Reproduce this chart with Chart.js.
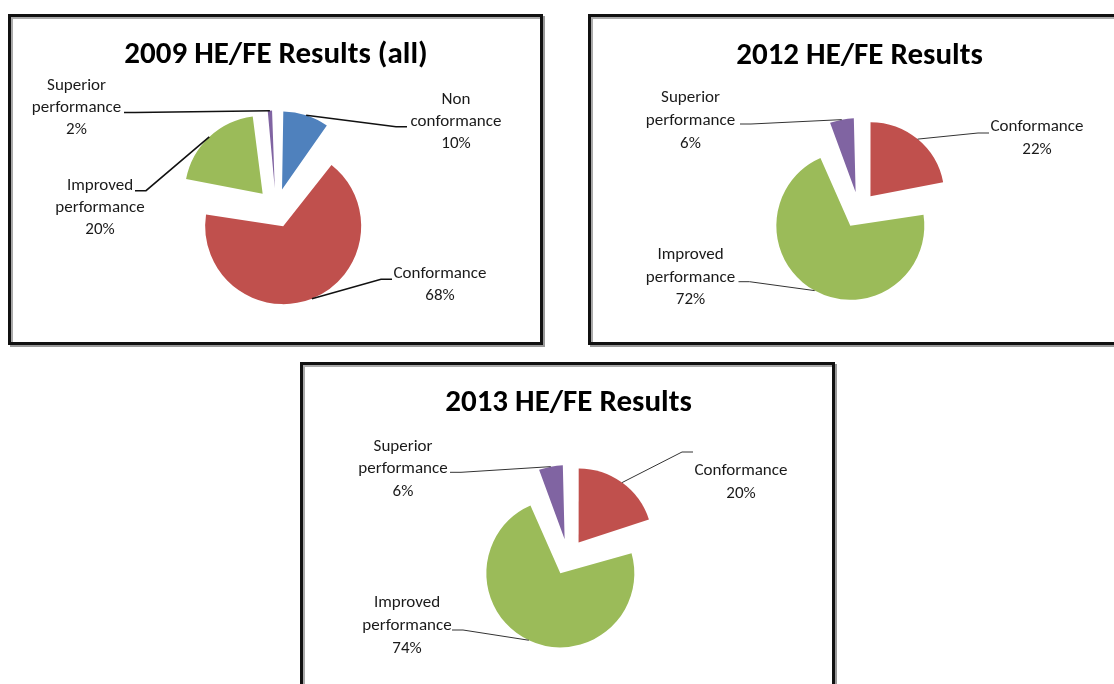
<!DOCTYPE html>
<html>
<head>
<script src="https://cdn.jsdelivr.net/npm/chart.js@4.4.1/dist/chart.umd.min.js"></script>
<style>
  html, body { margin: 0; padding: 0; background: #fff; overflow: hidden; width: 1114px; height: 684px; }
  .box { position: absolute; width: 535px; height: 331px; box-sizing: border-box;
         border: 3px solid #111; box-shadow: 2px 2px 0 #999, inset 2px 2px 0 #aaa; }
  canvas { position: absolute; }
</style>
</head>
<body>
  <div class="box" style="left:8px;top:14px"></div>
  <div class="box" style="left:588px;top:14px"></div>
  <div class="box" style="left:300px;top:362px"></div>
  <canvas id="c2009" width="535" height="331" style="left:8px;top:14px"></canvas>
  <canvas id="c2012" width="535" height="331" style="left:588px;top:14px"></canvas>
  <canvas id="c2013" width="535" height="331" style="left:300px;top:362px"></canvas>
<script>
// data
const titles = ['2009 HE/FE Results (all)', '2012 HE/FE Results', '2013 HE/FE Results']
const categories2009 = ['Non conformance', 'Conformance', 'Improved performance', 'Superior performance']
const values2009 = [10, 68, 20, 2]
const categories2012 = ['Conformance', 'Improved performance', 'Superior performance']
const values2012 = [22, 72, 6]
const categories2013 = ['Conformance', 'Improved performance', 'Superior performance']
const values2013 = [20, 74, 6]

const colorOf = {
  'Non conformance': '#4F81BD',
  'Conformance': '#C0504D',
  'Improved performance': '#9BBB59',
  'Superior performance': '#8064A2'
}

// layout: pie centre in canvas, radius, explode distance, title position,
// label placement [dx, dy from pie centre, anchor dx, anchor dy from label centre]
const layouts = [
  { cx: 268, cy: 194, r: 78, explode: 19.5, tx: 268, ty: 41, lineH: 22, lead: '#111', leadW: 1.6,
    place: [[180, -86, -49, 4.7], [164, 77, -48, -5.7], [-176, 0, 35, -17.3], [-199.5, -100, 47.5, 4.5]] },
  { cx: 271, cy: 196, r: 74, explode: 18, tx: 271.5, ty: 42, lineH: 22.6, lead: '#333', leadW: 1,
    place: [[178, -71.5, -48, -5.5], [-168.5, 67.5, 48, 4.2], [-168.5, -89.2, 49.5, 3.2]] },
  { cx: 268, cy: 195, r: 74, explode: 18, tx: 268.5, ty: 41, lineH: 22.7, lead: '#333', leadW: 1,
    place: [[173, -75, -48, -30], [-161, 68.8, 45, 4.2], [-165, -88, 47, 3.3]] }
]

const FONT = 'Carlito, Calibri, Lato, sans-serif'

const leaderLabels = {
  id: 'leaderLabels',
  beforeDatasetsDraw(chart, args, opts) {
    // keep every exploded slice at the same radius
    chart.getDatasetMeta(0).data.forEach(arc => {
      const off = (arc.options.offset || 0) / 4
      const fix = 1 - Math.sin(Math.min(Math.PI, arc.circumference))
      arc.outerRadius = opts.layout.r - off * fix
    })
  },
  afterDatasetsDraw(chart, args, opts) {
    const L = opts.layout
    const ctx = chart.ctx
    const labels = chart.data.labels
    const data = chart.data.datasets[0].data
    ctx.save()
    ctx.fillStyle = '#000'
    ctx.font = 'bold 31px ' + FONT
    ctx.textAlign = 'center'
    ctx.textBaseline = 'middle'
    ctx.fillText(opts.title, L.tx, L.ty)

    chart.getDatasetMeta(0).data.forEach((arc, i) => {
      const mid = (arc.startAngle + arc.endAngle) / 2
      const off = (arc.options.offset || 0) / 4
      const px = arc.x + Math.cos(mid) * (off + L.r)
      const py = arc.y + Math.sin(mid) * (off + L.r)
      const p = L.place[i]
      const lx = arc.x + p[0], ly = arc.y + p[1]
      const ax = lx + p[2], ay = ly + p[3]
      const ex = ax + (p[2] < 0 ? -11 : 11)

      ctx.strokeStyle = L.lead
      ctx.lineWidth = L.leadW
      ctx.beginPath()
      ctx.moveTo(px, py)
      ctx.lineTo(ex, ay)
      ctx.lineTo(ax, ay)
      ctx.stroke()

      const lines = labels[i].split(' ').concat([data[i] + '%'])
      ctx.fillStyle = '#1a1a1a'
      ctx.font = '17px ' + FONT
      lines.forEach((t, k) => {
        ctx.fillText(t, lx, ly + (k - (lines.length - 1) / 2) * L.lineH)
      })
    })
    ctx.restore()
  }
}

const makePie = (id, title, cats, vals, L) => {
  const W = 535, H = 331, R = 100
  return new Chart(document.getElementById(id), {
    type: 'pie',
    data: {
      labels: cats,
      datasets: [{
        data: vals,
        backgroundColor: cats.map(c => colorOf[c]),
        borderWidth: 0,
        offset: L.explode * 4
      }]
    },
    options: {
      responsive: false,
      animation: false,
      devicePixelRatio: 1,
      events: [],
      radius: L.r,
      layout: { padding: { left: L.cx - R, right: W - L.cx - R, top: L.cy - R, bottom: H - L.cy - R } },
      plugins: {
        legend: { display: false },
        tooltip: { enabled: false },
        leaderLabels: { title: title, layout: L }
      }
    },
    plugins: [leaderLabels]
  })
}

makePie('c2009', titles[0], categories2009, values2009, layouts[0])
makePie('c2012', titles[1], categories2012, values2012, layouts[1])
makePie('c2013', titles[2], categories2013, values2013, layouts[2])
</script>
</body>
</html>
